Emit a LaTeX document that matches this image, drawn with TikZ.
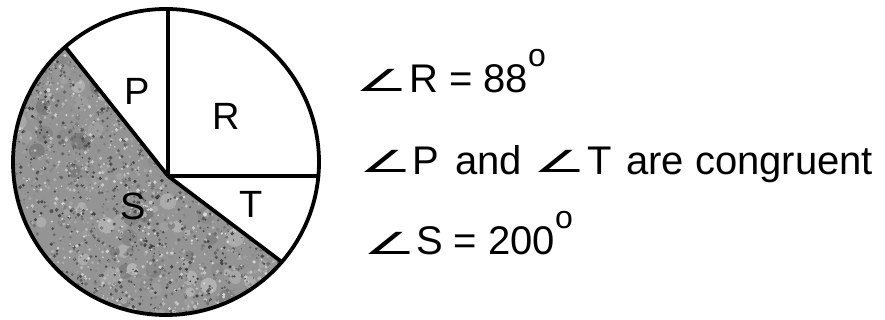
\documentclass[tikz,border=0pt]{standalone}
\usepackage{fontspec}
\usepackage{graphicx}
\usetikzlibrary{calc}
\setmainfont{Liberation Sans}
\newfontfamily\symfont{DejaVu Sans}
\newcommand{\degsup}{\raisebox{26pt}{\fontsize{32}{32}\selectfont o}}
\tikzset{
  pieline/.style={line width=3.8pt, line cap=round, line join=round},
  sector/.style={inner sep=0pt, font=\fontsize{38}{38}\selectfont},
  stmt/.style={inner sep=0pt, anchor=base west, font=\fontsize{40}{48}\selectfont},
  angsym/.style={inner sep=0pt, anchor=base},
}
\newcommand{\anglesign}{\scalebox{1.48}[0.76]{\fontsize{40}{40}\symfont ∠}}
\begin{document}
\begin{tikzpicture}[x=1pt,y=1pt]
\useasboundingbox (0,0) rectangle (885,320);
\coordinate (C) at (166,158);
\coordinate (J) at (168,144);
\coordinate (A) at ($(C)+(131.2:153pt)$);
\coordinate (B) at ($(C)+(-40.8:153pt)$);
\coordinate (Top) at (168,311);
\coordinate (Rt) at (318.4,144);
% shaded sector S
\begin{scope}
  \clip (J) -- (A) arc[start angle=131.2, end angle=319.2, radius=153] -- cycle;
  \fill[black!42] (0,0) rectangle (330,320);
  \pgfmathsetseed{7}
  \foreach \i in {1,...,160}{
    \pgfmathsetmacro\px{10+275*rnd}
    \pgfmathsetmacro\py{0+280*rnd}
    \pgfmathsetmacro\sh{int(30+22*rnd)}
    \pgfmathsetmacro\rr{3+6*rnd}
    \fill[black!\sh] (\px,\py) circle[radius=\rr];
  }
  \foreach \i in {1,...,3400}{
    \pgfmathsetmacro\px{10+275*rnd}
    \pgfmathsetmacro\py{0+280*rnd}
    \pgfmathsetmacro\sh{int(15+62*rnd)}
    \pgfmathsetmacro\rr{0.7+1.3*rnd}
    \fill[black!\sh] (\px,\py) circle[radius=\rr];
  }
\end{scope}
% circle and spokes
\draw[pieline] (C) circle[radius=153];
\draw[pieline] (A) -- (J) -- (B);
\draw[pieline] (Top) -- (J) -- (Rt);
% sector labels
\node[sector] (P) at (137.5,228.5) {P};
\node[sector] (R) at (226.5,204) {R};
\node[sector] (S) at (133.5,114) {S};
\node[sector] (T) at (251.5,116) {T};
% statement 1
\node[angsym] (a1) at (382,228) {\anglesign};
\node[stmt] (l1) at (409,227) {R = 88\degsup};
% statement 2
\node[angsym] (a2) at (386.5,147) {\anglesign};
\node[stmt] (l2p) at (412,145) {P};
\node[stmt] (l2and) at (455,145) {and};
\node[angsym] (a3) at (560.5,147) {\anglesign};
\node[stmt] (l2t) at (587,145) {T};
\node[stmt] (l2c) at (626,145) {are congruent};
% statement 3
\node[angsym] (a4) at (390,65) {\anglesign};
\node[stmt] (l3) at (416,65) {S = 200\degsup};
\end{tikzpicture}
\end{document}
